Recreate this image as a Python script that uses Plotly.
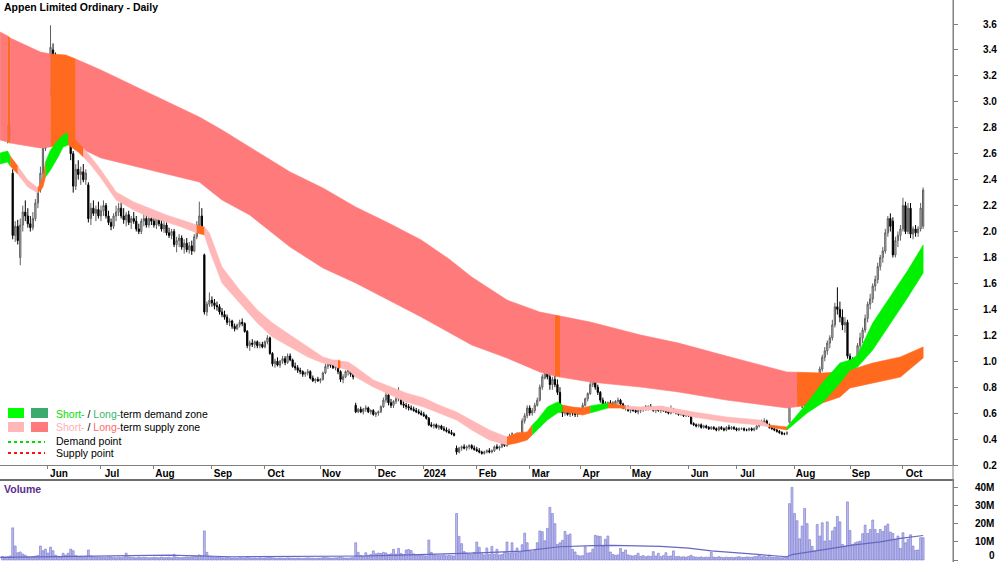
import plotly.graph_objects as go

# ---------------- DATA ----------------
# trading-day index 0..365 (May 2023 -> 11 Oct 2024)
open_ = [
    2.78, 2.84, 2.72, 2.77, 2.45, 1.97, 2.04, 1.80, 2.05, 2.15,
    2.12, 2.06, 2.03, 2.10, 2.22, 2.32, 2.45, 2.64, 2.88, 3.10,
    3.40, 3.10, 3.02, 3.25, 3.15, 3.28, 3.00, 2.75, 2.60, 2.35,
    2.48, 2.44, 2.46, 2.40, 2.36, 2.10, 2.18, 2.14, 2.17, 2.12,
    2.16, 2.20, 2.12, 2.07, 2.04, 2.12, 2.15, 2.18, 2.12, 2.09,
    2.13, 2.07, 2.10, 2.08, 2.02, 2.00, 2.08, 2.10, 2.05, 2.10,
    2.08, 2.05, 2.11, 2.06, 2.02, 2.05, 1.99, 1.97, 2.00, 1.90,
    1.93, 1.95, 1.88, 1.91, 1.86, 1.89, 1.85, 1.96, 2.05, 2.12,
    1.82, 1.38, 1.44, 1.47, 1.45, 1.43, 1.42, 1.38, 1.36, 1.34,
    1.30, 1.31, 1.27, 1.25, 1.28, 1.30, 1.29, 1.23, 1.12, 1.14,
    1.13, 1.15, 1.12, 1.13, 1.11, 1.15, 1.18, 1.06, 0.98, 1.00,
    0.97, 1.00, 1.02, 0.99, 1.04, 1.01, 0.96, 0.95, 0.93, 0.92,
    0.90, 0.91, 0.92, 0.87, 0.85, 0.86, 0.85, 0.86, 0.91, 0.96,
    0.99, 0.97, 0.95, 0.96, 0.92, 0.86, 0.88, 0.92, 0.93, 0.90,
    0.66, 0.61, 0.63, 0.61, 0.63, 0.64, 0.61, 0.62, 0.59, 0.60,
    0.61, 0.65, 0.70, 0.74, 0.68, 0.66, 0.69, 0.71, 0.73, 0.67,
    0.66, 0.65, 0.64, 0.63, 0.62, 0.61, 0.60, 0.59, 0.58, 0.56,
    0.51, 0.50, 0.51, 0.49, 0.50, 0.48, 0.47, 0.46, 0.45, 0.44,
    0.33, 0.30, 0.33, 0.34, 0.33, 0.34, 0.35, 0.33, 0.32, 0.31,
    0.30, 0.29, 0.30, 0.31, 0.30, 0.31, 0.34, 0.33, 0.34, 0.37,
    0.35, 0.39, 0.42, 0.40, 0.43, 0.41, 0.44, 0.54, 0.58, 0.64,
    0.60, 0.62, 0.66, 0.70, 0.80, 0.87, 1.08, 0.88, 0.82, 0.86,
    0.82, 0.76, 0.64, 0.60, 0.62, 0.59, 0.61, 0.60, 0.59, 0.60,
    0.63, 0.66, 0.71, 0.75, 0.82, 0.86, 0.80, 0.76, 0.70, 0.67,
    0.66, 0.68, 0.67, 0.66, 0.69, 0.70, 0.67, 0.64, 0.65, 0.62,
    0.63, 0.62, 0.61, 0.62, 0.63, 0.64, 0.63, 0.65, 0.64, 0.62,
    0.63, 0.62, 0.63, 0.62, 0.61, 0.60, 0.63, 0.61, 0.60, 0.59,
    0.60, 0.58, 0.59, 0.58, 0.52, 0.51, 0.50, 0.51, 0.49, 0.50,
    0.49, 0.48, 0.49, 0.48, 0.47, 0.49, 0.48, 0.47, 0.49, 0.48,
    0.49, 0.48, 0.47, 0.48, 0.48, 0.47, 0.47, 0.48, 0.47, 0.48,
    0.50, 0.52, 0.53, 0.54, 0.51, 0.49, 0.48, 0.47, 0.46, 0.45,
    0.44, 0.44, 0.53, 0.68, 0.82, 0.75, 0.80, 0.72, 0.66, 0.78,
    0.84, 0.82, 0.80, 0.83, 0.80, 0.94, 1.03, 1.08, 1.14, 1.18,
    1.28, 1.42, 1.40, 1.34, 1.28, 1.30, 1.04, 0.98, 0.96, 1.00,
    1.12, 1.18, 1.24, 1.33, 1.44, 1.48, 1.58, 1.63, 1.73, 1.80,
    1.85, 1.99, 2.10, 2.08, 1.82, 1.93, 1.97, 2.02, 2.20, 2.00,
    2.18, 1.98, 2.02, 1.99, 2.02, 2.04,
]
high = [
    2.88, 2.90, 2.82, 2.84, 2.48, 2.08, 2.09, 2.10, 2.20, 2.24,
    2.18, 2.12, 2.15, 2.25, 2.34, 2.50, 2.68, 2.95, 2.96, 3.59,
    3.45, 3.38, 3.30, 3.35, 3.32, 3.30, 3.05, 2.80, 2.62, 2.52,
    2.55, 2.50, 2.52, 2.48, 2.38, 2.22, 2.24, 2.20, 2.23, 2.20,
    2.24, 2.22, 2.16, 2.10, 2.14, 2.20, 2.22, 2.24, 2.18, 2.15,
    2.16, 2.12, 2.15, 2.12, 2.06, 2.10, 2.14, 2.13, 2.12, 2.14,
    2.12, 2.13, 2.14, 2.10, 2.08, 2.07, 2.03, 2.02, 2.02, 1.96,
    1.98, 1.97, 1.94, 1.95, 1.92, 1.93, 1.98, 2.08, 2.23, 2.18,
    1.83, 1.46, 1.53, 1.50, 1.48, 1.46, 1.44, 1.41, 1.39, 1.36,
    1.33, 1.32, 1.29, 1.29, 1.32, 1.33, 1.30, 1.24, 1.16, 1.17,
    1.16, 1.16, 1.15, 1.15, 1.16, 1.20, 1.19, 1.07, 1.02, 1.03,
    1.01, 1.04, 1.04, 1.06, 1.06, 1.02, 0.99, 0.97, 0.95, 0.93,
    0.92, 0.94, 0.93, 0.89, 0.87, 0.88, 0.87, 0.92, 0.98, 1.01,
    1.01, 0.99, 0.98, 0.97, 0.93, 0.90, 0.93, 0.94, 0.94, 0.91,
    0.68, 0.64, 0.65, 0.64, 0.66, 0.65, 0.63, 0.63, 0.61, 0.62,
    0.66, 0.72, 0.76, 0.76, 0.71, 0.70, 0.73, 0.80, 0.74, 0.69,
    0.68, 0.67, 0.66, 0.65, 0.64, 0.63, 0.62, 0.61, 0.59, 0.57,
    0.53, 0.52, 0.52, 0.51, 0.51, 0.50, 0.49, 0.48, 0.47, 0.45,
    0.35, 0.34, 0.35, 0.36, 0.35, 0.36, 0.36, 0.35, 0.34, 0.33,
    0.31, 0.31, 0.32, 0.33, 0.32, 0.35, 0.36, 0.35, 0.38, 0.38,
    0.40, 0.44, 0.45, 0.44, 0.45, 0.45, 0.56, 0.60, 0.66, 0.66,
    0.64, 0.68, 0.72, 0.82, 0.90, 1.16, 1.10, 0.92, 0.88, 0.89,
    0.86, 0.80, 0.66, 0.64, 0.64, 0.62, 0.63, 0.62, 0.61, 0.64,
    0.68, 0.72, 0.76, 0.84, 0.89, 0.87, 0.82, 0.77, 0.72, 0.69,
    0.69, 0.70, 0.69, 0.70, 0.72, 0.71, 0.68, 0.66, 0.66, 0.64,
    0.65, 0.63, 0.63, 0.64, 0.65, 0.66, 0.66, 0.67, 0.65, 0.64,
    0.65, 0.64, 0.65, 0.63, 0.62, 0.66, 0.64, 0.62, 0.61, 0.61,
    0.61, 0.60, 0.60, 0.58, 0.53, 0.52, 0.52, 0.52, 0.51, 0.51,
    0.50, 0.50, 0.50, 0.49, 0.50, 0.50, 0.49, 0.50, 0.51, 0.50,
    0.50, 0.49, 0.49, 0.49, 0.49, 0.48, 0.49, 0.49, 0.49, 0.51,
    0.53, 0.55, 0.56, 0.55, 0.52, 0.50, 0.49, 0.48, 0.47, 0.46,
    0.45, 0.46, 0.70, 0.86, 0.85, 0.84, 0.83, 0.74, 0.80, 0.86,
    0.88, 0.86, 0.84, 0.85, 0.96, 1.05, 1.11, 1.16, 1.20, 1.32,
    1.45, 1.57, 1.46, 1.40, 1.34, 1.32, 1.06, 1.03, 1.02, 1.14,
    1.22, 1.26, 1.36, 1.46, 1.52, 1.60, 1.66, 1.76, 1.82, 1.88,
    2.02, 2.12, 2.14, 2.11, 1.96, 2.00, 2.05, 2.26, 2.23, 2.22,
    2.22, 2.04, 2.05, 2.04, 2.22, 2.34,
]
low = [
    2.72, 2.70, 2.68, 2.70, 1.94, 1.92, 1.90, 1.74, 2.00, 2.08,
    2.03, 2.00, 2.01, 2.08, 2.18, 2.30, 2.40, 2.62, 2.78, 3.05,
    3.05, 3.00, 2.98, 3.10, 3.08, 2.95, 2.70, 2.55, 2.30, 2.32,
    2.40, 2.36, 2.38, 2.36, 2.07, 2.05, 2.12, 2.08, 2.10, 2.08,
    2.12, 2.10, 2.05, 2.01, 2.02, 2.08, 2.12, 2.10, 2.06, 2.04,
    2.05, 2.02, 2.06, 2.00, 1.98, 1.98, 2.04, 2.03, 2.03, 2.05,
    2.03, 2.02, 2.04, 2.00, 1.99, 1.97, 1.95, 1.94, 1.88, 1.84,
    1.88, 1.86, 1.83, 1.84, 1.83, 1.82, 1.84, 1.94, 2.02, 2.00,
    1.36, 1.35, 1.42, 1.42, 1.40, 1.39, 1.36, 1.34, 1.32, 1.28,
    1.27, 1.25, 1.23, 1.24, 1.26, 1.27, 1.22, 1.10, 1.08, 1.11,
    1.10, 1.10, 1.10, 1.10, 1.10, 1.13, 1.05, 0.96, 0.95, 0.96,
    0.95, 0.98, 0.97, 0.98, 1.00, 0.95, 0.93, 0.91, 0.90, 0.88,
    0.88, 0.89, 0.86, 0.84, 0.83, 0.84, 0.83, 0.85, 0.90, 0.94,
    0.95, 0.94, 0.93, 0.90, 0.84, 0.83, 0.87, 0.89, 0.88, 0.86,
    0.60, 0.60, 0.60, 0.59, 0.61, 0.60, 0.59, 0.58, 0.57, 0.58,
    0.60, 0.64, 0.68, 0.66, 0.64, 0.64, 0.67, 0.69, 0.66, 0.64,
    0.63, 0.62, 0.62, 0.61, 0.60, 0.59, 0.58, 0.57, 0.55, 0.50,
    0.49, 0.48, 0.48, 0.47, 0.47, 0.46, 0.45, 0.44, 0.43, 0.42,
    0.28, 0.29, 0.31, 0.32, 0.31, 0.32, 0.32, 0.31, 0.30, 0.29,
    0.28, 0.28, 0.29, 0.29, 0.29, 0.30, 0.32, 0.31, 0.33, 0.34,
    0.34, 0.38, 0.39, 0.39, 0.40, 0.40, 0.43, 0.52, 0.56, 0.58,
    0.58, 0.60, 0.65, 0.69, 0.78, 0.86, 0.86, 0.78, 0.78, 0.80,
    0.74, 0.62, 0.57, 0.58, 0.58, 0.57, 0.58, 0.57, 0.57, 0.59,
    0.62, 0.65, 0.69, 0.74, 0.80, 0.78, 0.74, 0.68, 0.65, 0.64,
    0.64, 0.65, 0.64, 0.65, 0.67, 0.66, 0.63, 0.62, 0.61, 0.60,
    0.61, 0.60, 0.59, 0.60, 0.61, 0.62, 0.62, 0.63, 0.61, 0.60,
    0.61, 0.60, 0.61, 0.60, 0.59, 0.59, 0.60, 0.59, 0.58, 0.58,
    0.57, 0.57, 0.57, 0.51, 0.50, 0.49, 0.49, 0.48, 0.48, 0.48,
    0.47, 0.47, 0.47, 0.46, 0.46, 0.47, 0.46, 0.46, 0.47, 0.47,
    0.47, 0.46, 0.46, 0.47, 0.46, 0.46, 0.46, 0.46, 0.46, 0.47,
    0.49, 0.51, 0.51, 0.50, 0.48, 0.47, 0.46, 0.45, 0.44, 0.43,
    0.43, 0.43, 0.52, 0.67, 0.72, 0.72, 0.70, 0.64, 0.65, 0.76,
    0.79, 0.78, 0.77, 0.78, 0.79, 0.92, 1.00, 1.05, 1.10, 1.16,
    1.26, 1.36, 1.30, 1.24, 1.22, 1.02, 0.94, 0.93, 0.92, 0.99,
    1.06, 1.14, 1.22, 1.30, 1.40, 1.45, 1.54, 1.60, 1.70, 1.76,
    1.83, 1.96, 2.00, 1.80, 1.80, 1.88, 1.93, 2.00, 1.98, 1.98,
    1.95, 1.94, 1.96, 1.96, 2.00, 2.02,
]
close = [
    2.84, 2.72, 2.79, 2.74, 1.97, 2.04, 1.93, 2.05, 2.15, 2.12,
    2.06, 2.03, 2.10, 2.22, 2.30, 2.45, 2.64, 2.90, 2.92, 3.42,
    3.10, 3.02, 3.25, 3.15, 3.28, 3.00, 2.75, 2.60, 2.35, 2.48,
    2.44, 2.46, 2.40, 2.45, 2.10, 2.18, 2.14, 2.17, 2.12, 2.16,
    2.20, 2.12, 2.07, 2.04, 2.12, 2.15, 2.18, 2.12, 2.09, 2.13,
    2.07, 2.10, 2.08, 2.02, 2.00, 2.08, 2.10, 2.05, 2.10, 2.08,
    2.05, 2.11, 2.06, 2.02, 2.05, 1.99, 1.97, 2.00, 1.90, 1.93,
    1.95, 1.88, 1.91, 1.86, 1.89, 1.85, 1.96, 2.05, 2.12, 2.04,
    1.38, 1.44, 1.47, 1.45, 1.43, 1.42, 1.38, 1.36, 1.34, 1.30,
    1.31, 1.27, 1.25, 1.28, 1.30, 1.29, 1.23, 1.12, 1.14, 1.13,
    1.15, 1.12, 1.13, 1.11, 1.15, 1.18, 1.06, 0.98, 1.00, 0.97,
    1.00, 1.02, 0.99, 1.04, 1.01, 0.96, 0.95, 0.93, 0.92, 0.90,
    0.91, 0.92, 0.87, 0.85, 0.86, 0.85, 0.86, 0.91, 0.96, 0.99,
    0.97, 0.95, 0.96, 0.92, 0.86, 0.88, 0.92, 0.93, 0.90, 0.88,
    0.61, 0.63, 0.61, 0.63, 0.64, 0.61, 0.62, 0.59, 0.60, 0.61,
    0.65, 0.70, 0.74, 0.68, 0.66, 0.69, 0.71, 0.73, 0.67, 0.66,
    0.65, 0.64, 0.63, 0.62, 0.61, 0.60, 0.59, 0.58, 0.56, 0.51,
    0.50, 0.51, 0.49, 0.50, 0.48, 0.47, 0.46, 0.45, 0.44, 0.43,
    0.30, 0.33, 0.34, 0.33, 0.34, 0.35, 0.33, 0.32, 0.31, 0.30,
    0.29, 0.30, 0.31, 0.30, 0.31, 0.34, 0.33, 0.34, 0.37, 0.35,
    0.39, 0.42, 0.40, 0.43, 0.41, 0.44, 0.54, 0.58, 0.64, 0.60,
    0.62, 0.66, 0.70, 0.80, 0.88, 1.08, 0.88, 0.82, 0.86, 0.82,
    0.76, 0.64, 0.60, 0.62, 0.59, 0.61, 0.60, 0.59, 0.60, 0.63,
    0.66, 0.71, 0.75, 0.82, 0.86, 0.80, 0.76, 0.70, 0.67, 0.66,
    0.68, 0.67, 0.66, 0.69, 0.70, 0.67, 0.64, 0.65, 0.62, 0.63,
    0.62, 0.61, 0.62, 0.63, 0.64, 0.63, 0.65, 0.64, 0.62, 0.63,
    0.62, 0.63, 0.62, 0.61, 0.60, 0.63, 0.61, 0.60, 0.59, 0.60,
    0.58, 0.59, 0.58, 0.52, 0.51, 0.50, 0.51, 0.49, 0.50, 0.49,
    0.48, 0.49, 0.48, 0.47, 0.49, 0.48, 0.47, 0.49, 0.48, 0.49,
    0.48, 0.47, 0.48, 0.48, 0.47, 0.47, 0.48, 0.47, 0.48, 0.50,
    0.52, 0.53, 0.54, 0.51, 0.49, 0.48, 0.47, 0.46, 0.45, 0.44,
    0.44, 0.45, 0.68, 0.82, 0.75, 0.80, 0.72, 0.66, 0.78, 0.84,
    0.82, 0.80, 0.83, 0.80, 0.94, 1.03, 1.08, 1.14, 1.18, 1.28,
    1.42, 1.40, 1.34, 1.28, 1.30, 1.04, 0.98, 0.96, 1.00, 1.12,
    1.18, 1.24, 1.33, 1.44, 1.48, 1.58, 1.63, 1.73, 1.80, 1.85,
    1.99, 2.10, 2.04, 1.82, 1.93, 1.97, 2.02, 2.20, 2.00, 2.18,
    1.98, 2.02, 1.99, 2.02, 2.18, 2.32,
]
# volume in millions of shares
volume_m = [
    2.0, 1.6, 1.8, 2.2, 17.7, 7.7, 4.0, 4.4, 3.3, 2.6,
    1.8, 1.5, 1.9, 2.2, 2.5, 7.7, 5.1, 6.0, 3.8, 7.1,
    5.1, 2.7, 2.0, 1.8, 3.7, 2.7, 3.7, 6.0, 5.1, 2.4,
    1.8, 1.6, 1.5, 2.0, 5.5, 2.2, 1.7, 1.5, 1.6, 1.4,
    1.5, 1.3, 1.8, 1.6, 1.4, 1.2, 1.5, 1.3, 1.6, 3.8,
    1.7, 1.5, 1.4, 1.2, 1.6, 1.3, 1.5, 1.4, 1.2, 1.3,
    1.5, 1.4, 1.2, 1.6, 1.3, 1.4, 1.5, 1.2, 3.1, 1.6,
    1.4, 1.3, 1.5, 1.7, 1.6, 1.8, 2.0, 2.2, 2.8, 2.4,
    16.0, 4.2, 2.2, 1.8, 1.5, 1.4, 1.6, 1.3, 1.2, 1.4,
    1.3, 1.1, 1.2, 1.0, 1.3, 1.2, 1.1, 1.8, 1.2, 1.0,
    1.1, 0.9, 1.2, 1.0, 1.1, 1.3, 1.5, 1.2, 1.0, 0.9,
    1.1, 1.0, 0.9, 1.2, 1.1, 1.0, 0.9, 1.1, 1.0, 0.9,
    1.0, 1.2, 1.1, 1.0, 0.9, 1.0, 1.1, 1.3, 1.4, 1.2,
    1.1, 1.0, 1.2, 1.3, 1.6, 1.2, 1.1, 1.0, 1.2, 1.3,
    9.5, 4.2, 2.5, 2.0, 4.0, 2.6, 3.0, 5.0, 3.4, 3.8,
    3.6, 4.2, 3.9, 3.0, 3.4, 5.9, 3.2, 6.4, 3.6, 3.0,
    5.5, 5.8, 5.2, 3.4, 2.6, 2.8, 2.5, 2.4, 2.2, 11.0,
    4.2, 3.0, 2.6, 2.4, 2.5, 2.8, 2.3, 2.6, 2.4, 2.2,
    25.6, 13.0, 9.0, 4.6, 3.8, 3.2, 3.0, 4.2, 9.9, 7.0,
    3.4, 2.8, 6.6, 3.0, 7.5, 3.2, 5.9, 2.8, 3.0, 4.2,
    9.9, 3.8, 9.5, 4.0, 6.6, 4.4, 8.4, 14.8, 9.5, 5.0,
    4.6, 5.2, 9.5, 16.0, 15.6, 10.6, 17.4, 29.0, 25.6, 20.0,
    8.6, 9.5, 10.8, 15.7, 13.7, 14.3, 5.9, 4.4, 2.6, 2.2,
    2.4, 7.3, 3.8, 4.0, 6.0, 13.6, 13.2, 13.0, 7.5, 11.4,
    13.2, 4.4, 3.0, 2.6, 2.8, 6.4, 4.2, 5.5, 2.8, 2.4,
    2.2, 2.6, 3.7, 2.0, 2.4, 1.8, 2.2, 2.0, 4.6, 2.2,
    3.7, 1.8, 2.4, 4.0, 2.0, 2.2, 5.0, 1.8, 2.0, 1.6,
    1.8, 1.5, 2.0, 2.6, 1.8, 1.6, 1.5, 1.7, 1.4, 1.6,
    1.5, 4.2, 1.6, 1.4, 1.8, 1.5, 1.3, 1.6, 1.4, 1.5,
    1.3, 1.6, 1.8, 1.5, 1.4, 1.7, 1.6, 1.5, 1.8, 2.0,
    2.7, 1.8, 2.0, 1.6, 2.7, 1.5, 1.4, 1.6, 1.3, 1.2,
    1.4, 1.6, 31.0, 40.0, 25.6, 21.6, 11.7, 18.7, 28.4, 20.0,
    11.2, 7.5, 5.0, 19.6, 13.2, 20.5, 10.4, 21.0, 10.6, 16.0,
    18.0, 24.0, 21.0, 8.6, 7.7, 32.0, 16.3, 8.6, 9.5, 10.0,
    10.4, 14.5, 19.2, 14.6, 16.8, 22.0, 16.8, 14.6, 16.8, 15.7,
    18.7, 19.8, 15.4, 14.6, 11.4, 13.2, 6.4, 15.0, 9.5, 11.4,
    13.9, 7.7, 5.3, 5.5, 12.3, 12.3,
]
# volume moving-average line (knots)
vol_ma_x = [-1, 20, 49, 66, 91, 131, 144, 158, 177, 189, 206, 221, 234, 242,
            261, 272, 281, 290, 305, 311, 313, 325, 337, 348, 356, 365]
vol_ma_m = [1.5, 2.0, 2.7, 2.7, 1.8, 1.8, 2.2, 2.7, 3.3, 3.9, 4.9, 7.3, 7.9, 8.0,
            7.5, 6.5, 5.0, 4.0, 2.5, 1.8, 3.0, 5.5, 8.2, 10.0, 11.9, 13.5]

# long-term zone (upper/lower edge)
long_x = [-1, 2, 3, 15, 19, 25, 29, 39, 58, 78, 87, 98, 114, 127, 140, 153, 166,
          177, 186, 200, 213, 219, 221, 233, 253, 268, 287, 300, 311, 315, 325,
          332, 336, 345, 356, 365]
long_top = [3.538, 3.508, 3.492, 3.384, 3.369, 3.361, 3.330, 3.245, 3.068, 2.883,
            2.783, 2.652, 2.459, 2.336, 2.189, 2.066, 1.935, 1.788, 1.649, 1.472,
            1.379, 1.356, 1.349, 1.302, 1.202, 1.140, 1.040, 0.971, 0.917, 0.915,
            0.909, 0.917, 0.932, 0.986, 1.033, 1.110]
long_bot = [2.706, 2.690, 2.682, 2.644, 2.652, 2.683, 2.660, 2.567, 2.474, 2.382,
            2.243, 2.127, 1.881, 1.719, 1.603, 1.472, 1.341, 1.225, 1.125, 1.025,
            0.917, 0.886, 0.878, 0.840, 0.801, 0.763, 0.701, 0.670, 0.640, 0.650,
            0.678, 0.724, 0.794, 0.832, 0.878, 1.025]
long_breaks = [-1, 2, 3, 19, 29, 219, 221, 315, 365]
long_states = ["supply", "mixed", "supply", "mixed", "supply", "mixed", "supply", "mixed"]

# short-term zone (upper/lower edge)
short_x = [-1, 2, 3, 6, 10, 14, 16, 17, 19, 22, 24, 26, 30, 32, 35, 39, 45, 52, 58,
           65, 71, 77, 80, 82, 87, 94, 101, 107, 114, 121, 127, 131, 133, 134, 137,
           140, 147, 154, 160, 167, 173, 180, 186, 193, 200, 204, 208, 210, 212,
           216, 220, 222, 226, 230, 233, 237, 240, 245, 247, 253, 261, 274, 287,
           300, 304, 311, 319, 325, 332, 336, 339, 345, 352, 359, 365]
short_top = [2.605, 2.621, 2.582, 2.505, 2.397, 2.336, 2.420, 2.536, 2.629, 2.706,
             2.744, 2.760, 2.682, 2.644, 2.575, 2.474, 2.305, 2.228, 2.181, 2.127,
             2.089, 2.050, 2.035, 1.989, 1.726, 1.549, 1.395, 1.295, 1.202, 1.110,
             1.033, 1.009, 1.009, 1.001, 0.994, 0.955, 0.855, 0.801, 0.755, 0.716,
             0.662, 0.608, 0.547, 0.470, 0.416, 0.447, 0.455, 0.508, 0.547, 0.647,
             0.686, 0.662, 0.647, 0.639, 0.655, 0.670, 0.678, 0.662, 0.655, 0.647,
             0.655, 0.608, 0.570, 0.547, 0.508, 0.493, 0.678, 0.832, 0.986, 1.009,
             1.048, 1.295, 1.495, 1.703, 1.896]
short_bot = [2.521, 2.536, 2.505, 2.443, 2.343, 2.297, 2.343, 2.420, 2.474, 2.575,
             2.652, 2.667, 2.613, 2.575, 2.513, 2.413, 2.243, 2.166, 2.112, 2.073,
             2.035, 1.989, 1.974, 1.858, 1.603, 1.449, 1.295, 1.187, 1.110, 1.033,
             0.986, 0.971, 0.948, 0.948, 0.932, 0.878, 0.801, 0.740, 0.686, 0.647,
             0.601, 0.547, 0.470, 0.393, 0.354, 0.370, 0.393, 0.431, 0.470, 0.547,
             0.601, 0.608, 0.601, 0.585, 0.601, 0.624, 0.639, 0.639, 0.632, 0.624,
             0.624, 0.570, 0.531, 0.508, 0.493, 0.470, 0.601, 0.678, 0.832, 0.932,
             0.955, 1.087, 1.295, 1.495, 1.680]
short_breaks = [-1, 3, 6, 14, 17, 26, 32, 77, 80, 133, 134, 200, 210, 222, 233,
                240, 247, 304, 311, 365]
short_states = ["demand", "mixed", "supply", "mixed", "demand", "mixed", "supply",
                "mixed", "supply", "mixed", "supply", "mixed", "demand", "mixed",
                "demand", "mixed", "supply", "mixed", "demand"]

month_start_idx = [18, 39, 60, 83, 104, 126, 148, 167, 188, 209, 229, 249, 272,
                   291, 314, 336, 357]
month_labels = ["Jun", "Jul", "Aug", "Sep", "Oct", "Nov", "Dec", "2024", "Feb",
                "Mar", "Apr", "May", "Jun", "Jul", "Aug", "Sep", "Oct"]
price_ticks = [0.2, 0.4, 0.6, 0.8, 1.0, 1.2, 1.4, 1.6, 1.8, 2.0, 2.2, 2.4, 2.6,
               2.8, 3.0, 3.2, 3.4, 3.6]
vol_ticks = [0, 10, 20, 30, 40]
vol_tick_text = ["0", "10M", "20M", "30M", "40M"]

# ---------------- STYLE ----------------
FONT = "Liberation Sans, Arial, sans-serif"
LONG_COLORS = {"supply": "#FF7B7B", "mixed": "#FF6A1E", "demand": "#3CB371"}
SHORT_COLORS = {"supply": "#FFB7B7", "mixed": "#FF6A1E", "demand": "#00F000"}
W, H = 1000, 562
PLOT_W = 953
PRICE_BOTTOM_PX = 465
VOL_TOP_PX = 481
X_RANGE = [-1.03, 376.84]
VOL_RANGE = [-1.1, 43.5]
TICK_FS = 10

fig = go.Figure()


def add_zone(kx, top, bot, breaks, states, colors):
    for a, b, st in zip(breaks[:-1], breaks[1:], states):
        ia, ib = kx.index(a), kx.index(b)
        xs = kx[ia:ib + 1] + kx[ia:ib + 1][::-1]
        ys = top[ia:ib + 1] + bot[ia:ib + 1][::-1]
        col = colors[st]
        fig.add_trace(go.Scatter(x=xs, y=ys, mode="lines", fill="toself",
                                 fillcolor=col, line=dict(width=0.6, color=col),
                                 hoverinfo="skip", xaxis="x", yaxis="y"))


add_zone(long_x, long_top, long_bot, long_breaks, long_states, LONG_COLORS)
add_zone(short_x, short_top, short_bot, short_breaks, short_states, SHORT_COLORS)

idx = list(range(len(close)))
fig.add_trace(go.Candlestick(
    x=idx, open=open_, high=high, low=low, close=close,
    increasing=dict(fillcolor="#D8D8D8", line=dict(color="#5E5E5E", width=1)),
    decreasing=dict(fillcolor="#000000", line=dict(color="#000000", width=1)),
    whiskerwidth=0, xaxis="x", yaxis="y", hoverinfo="skip"))

fig.add_trace(go.Bar(x=idx, y=volume_m, width=0.75,
                     marker=dict(color="rgba(168,168,232,0.75)",
                                 line=dict(color="#8080D2", width=0.7)),
                     xaxis="x2", yaxis="y2", hoverinfo="skip"))
fig.add_trace(go.Scatter(x=vol_ma_x, y=vol_ma_m, mode="lines",
                         line=dict(color="#6666C4", width=1.2),
                         xaxis="x2", yaxis="y2", hoverinfo="skip"))

price_dom = [1 - PRICE_BOTTOM_PX / H, 1.0]
vol_dom = [0.0, 1 - VOL_TOP_PX / H]
AX = "#808080"
tickfont = dict(family=FONT, size=TICK_FS, color="black", weight="bold")

fig.update_layout(
    width=W, height=H, margin=dict(l=0, r=W - PLOT_W, t=0, b=0, pad=0),
    autosize=False,
    paper_bgcolor="white", plot_bgcolor="white", showlegend=False,
    font=dict(family=FONT, size=11, color="black"),
    xaxis=dict(domain=[0, 1], range=X_RANGE, anchor="y", automargin=False,
               tickvals=month_start_idx, ticktext=month_labels,
               ticks="outside", ticklen=3, tickcolor=AX, showline=True,
               linecolor=AX, linewidth=1, showgrid=False, zeroline=False,
               rangeslider=dict(visible=False), ticklabelshift=11,
               ticklabelstandoff=-4, tickfont=tickfont),
    yaxis=dict(domain=price_dom, range=[0.2, 3.785], side="right", anchor="x",
               automargin=False,
               tickvals=price_ticks, ticktext=[f"{v:.1f}" for v in price_ticks],
               ticks="outside", ticklen=4, tickcolor=AX, showline=True,
               linecolor=AX, showgrid=False, zeroline=False,
               ticklabelstandoff=23, tickfont=tickfont),
    xaxis2=dict(domain=[0, 1], range=X_RANGE, anchor="y2", side="top",
                automargin=False,
                showticklabels=False, ticks="", showline=True,
                linecolor="#6E6E6E", linewidth=1.5, showgrid=False, zeroline=False),
    yaxis2=dict(domain=vol_dom, range=VOL_RANGE, side="right", anchor="x2",
                automargin=False,
                tickvals=vol_ticks, showticklabels=False,
                ticks="outside", ticklen=4, tickcolor=AX, showline=True,
                linecolor=AX, showgrid=False, zeroline=False),
)


def px_x(p):
    return p / PLOT_W


def px_y(p):
    return 1 - p / H


shapes = [
    # full-height right axis line
    dict(type="line", xref="paper", yref="paper", x0=1, x1=1, y0=0, y1=1,
         line=dict(color=AX, width=1)),
    # legend swatches
    dict(type="rect", xref="paper", yref="paper", x0=px_x(8), x1=px_x(24),
         y0=px_y(418), y1=px_y(408), fillcolor="#00FF00", line=dict(width=0)),
    dict(type="rect", xref="paper", yref="paper", x0=px_x(31), x1=px_x(48),
         y0=px_y(418), y1=px_y(408), fillcolor="#3CAA6C", line=dict(width=0)),
    dict(type="rect", xref="paper", yref="paper", x0=px_x(8), x1=px_x(24),
         y0=px_y(432), y1=px_y(422), fillcolor="#FFB7B7", line=dict(width=0)),
    dict(type="rect", xref="paper", yref="paper", x0=px_x(31), x1=px_x(48),
         y0=px_y(432), y1=px_y(422), fillcolor="#FF7B7B", line=dict(width=0)),
    dict(type="line", xref="paper", yref="paper", x0=px_x(8), x1=px_x(45),
         y0=px_y(442), y1=px_y(442), line=dict(color="#00DD00", width=2, dash="dot")),
    dict(type="line", xref="paper", yref="paper", x0=px_x(8), x1=px_x(45),
         y0=px_y(453), y1=px_y(453), line=dict(color="#FF1010", width=2, dash="dot")),
]
fig.update_layout(shapes=shapes)

LEG_FS = 10.5
ann = [
    dict(text="<b>Appen Limited Ordinary - Daily</b>", x=px_x(2), y=px_y(7),
         size=10.5, color="black"),
    dict(text="<b>Volume</b>", x=px_x(2), y=px_y(489), size=10.5, color="#5A2D8C"),
    dict(text="<span style='color:#00E000'>Short-</span> / "
              "<span style='color:#3CB371'>Long-</span>term demand zone",
         x=px_x(54), y=px_y(414), size=LEG_FS, color="black"),
    dict(text="<span style='color:#FFB0B0'>Short-</span> / "
              "<span style='color:#FF6A6A'>Long-</span>term supply zone",
         x=px_x(54), y=px_y(427), size=LEG_FS, color="black"),
    dict(text="Demand point", x=px_x(54), y=px_y(441), size=LEG_FS, color="black"),
    dict(text="Supply point", x=px_x(54), y=px_y(453), size=LEG_FS, color="black"),
]
for a in ann:
    fig.add_annotation(xref="paper", yref="paper", xanchor="left",
                       yanchor="middle", showarrow=False,
                       font=dict(family=FONT, size=a["size"], color=a["color"]),
                       text=a["text"], x=a["x"], y=a["y"])

# volume axis labels, right-aligned like the reference
for v, t in zip(vol_ticks, vol_tick_text):
    if v == 0:
        # keep the zero label fully inside the picture
        fig.add_annotation(xref="paper", yref="y2", x=996 / PLOT_W, y=VOL_RANGE[0],
                           xanchor="right", yanchor="bottom", showarrow=False,
                           text=f"<b>{t}</b>", borderpad=0,
                           font=dict(family=FONT, size=TICK_FS, color="black"))
    else:
        fig.add_annotation(xref="paper", yref="y2", x=996 / PLOT_W, y=v,
                           xanchor="right", yanchor="middle", showarrow=False,
                           text=f"<b>{t}</b>",
                           font=dict(family=FONT, size=TICK_FS, color="black"))

fig.write_html("out.html")
